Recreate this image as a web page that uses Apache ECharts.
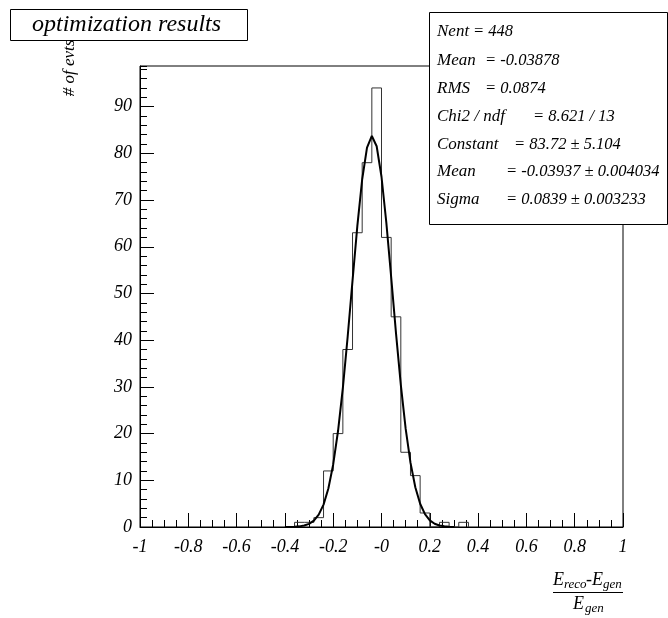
<!DOCTYPE html>
<html>
<head>
<meta charset="utf-8">
<script src="https://cdn.jsdelivr.net/npm/echarts@6/dist/echarts.min.js"></script>
<style>
	html, body { margin: 0; padding: 0; background: #fff; }
	#mainChart { width: 668px; height: 618px; }
</style>
</head>
<body>
<div id="mainChart"></div>
<script>
	// histogram: 0.04 wide bins, first bin starts at -0.36
	var binStart = -0.36;
	var binWidth = 0.04;
	var counts = [1, 1, 2, 12, 20, 38, 63, 78, 94, 62, 45, 16, 11, 3, 0, 1, 0, 1];

	// gaussian fit curve, sampled as drawn
	var fitX = [-0.40, -0.38, -0.36, -0.34, -0.32, -0.30, -0.28, -0.26, -0.24, -0.22, -0.20, -0.18,
		-0.16, -0.14, -0.12, -0.10, -0.08, -0.06, -0.04, -0.02, 0.00, 0.02, 0.04, 0.06,
		0.08, 0.10, 0.12, 0.14, 0.16, 0.18, 0.20, 0.22, 0.24, 0.26, 0.28, 0.30];
	var fitY = [0.008, 0.022, 0.056, 0.136, 0.311, 0.672, 1.370, 2.637, 4.798, 8.248, 13.39, 20.55,
		29.78, 40.78, 52.76, 64.48, 74.45, 81.22, 83.72, 81.52, 74.99, 65.18, 53.52, 41.52,
		30.42, 21.06, 13.78, 8.517, 4.973, 2.743, 1.429, 0.704, 0.327, 0.144, 0.060, 0.023];

	var xTickLabels = ['-1', '-0.8', '-0.6', '-0.4', '-0.2', '-0', '0.2', '0.4', '0.6', '0.8', '1'];
	var yMax = 98.7;

	var statLabels = ['Nent', 'Mean', 'RMS', 'Chi2 / ndf', 'Constant', 'Mean', 'Sigma'];
	var statValues = ['= 448', '= -0.03878', '= 0.0874', '= 8.621 / 13', '= 83.72 \u00b1 5.104',
		'= -0.03937 \u00b1 0.004034', '= 0.0839 \u00b1 0.003233'];

	var serif = '"Liberation Serif", "DejaVu Serif", serif';

	function histData() {
		var pts = [[binStart, 0]];
		for (var i = 0; i < counts.length; i++) {
			pts.push([binStart + i * binWidth, counts[i]]);
		}
		pts.push([binStart + counts.length * binWidth, 0]);
		return pts;
	}

	function fitData() {
		var pts = [];
		for (var i = 0; i < fitX.length; i++) {
			pts.push([fitX[i], fitY[i]]);
		}
		return pts;
	}

	function statsGraphics() {
		var eqX = [473, 485, 485, 533, 514, 506, 506];
		var rowY = [32, 61, 89, 117, 145, 172, 200];
		var els = [{
			type : 'rect',
			shape : { x : 429.5, y : 12.5, width : 238, height : 212 },
			style : { fill : '#fff', stroke : '#000', lineWidth : 1 },
			z : 100
		}];
		for (var i = 0; i < statLabels.length; i++) {
			els.push({
				type : 'text', x : 437, y : rowY[i], z : 101,
				style : { text : statLabels[i], font : 'italic 17px ' + serif, fill : '#000', verticalAlign : 'middle' }
			});
			els.push({
				type : 'text', x : eqX[i], y : rowY[i], z : 101,
				style : { text : statValues[i], font : 'italic 16.5px ' + serif, fill : '#000', verticalAlign : 'middle' }
			});
		}
		return els;
	}

	var myChart = echarts.init(document.getElementById('mainChart'));
	var tickColor = '#000';
	option = {
		animation : false,
		backgroundColor : '#fff',
		grid : {
			left : 140, right : 45, top : 66, bottom : 91,
			show : true, borderColor : '#000', borderWidth : 1, backgroundColor : 'transparent'
		},
		xAxis : [ {
			type : 'value', min : -1, max : 1, interval : 0.2, position : 'bottom',
			axisLine : { onZero : false, lineStyle : { color : tickColor, width : 1 } },
			axisTick : { inside : true, length : 14, lineStyle : { color : tickColor } },
			splitLine : { show : false },
			axisLabel : {
				margin : 11, color : '#000', fontFamily : serif, fontStyle : 'italic', fontSize : 18,
				formatter : function (v) { return xTickLabels[Math.round((v + 1) / 0.2)]; }
			}
		}, {
			type : 'value', min : -1, max : 1, interval : 0.05, position : 'bottom',
			axisLine : { show : false, onZero : false },
			axisTick : { inside : true, length : 7, lineStyle : { color : tickColor } },
			splitLine : { show : false },
			axisLabel : { show : false }
		} ],
		yAxis : [ {
			type : 'value', min : 0, max : yMax, interval : 10, position : 'left',
			axisLine : { show : true, onZero : false, lineStyle : { color : tickColor, width : 1 } },
			axisTick : { show : true, inside : true, length : 14, lineStyle : { color : tickColor } },
			splitLine : { show : false },
			axisLabel : {
				margin : 8, color : '#000', fontFamily : serif, fontStyle : 'italic', fontSize : 18,
				showMaxLabel : false,
				formatter : function (v) { return (Math.abs(v % 10) < 1e-6) ? String(v) : ''; }
			}
		}, {
			type : 'value', min : 0, max : yMax, interval : 2, position : 'left',
			axisLine : { show : false, onZero : false },
			axisTick : { show : true, inside : true, length : 7, lineStyle : { color : tickColor } },
			splitLine : { show : false },
			axisLabel : { show : false }
		} ],
		series : [ {
			name : 'hist',
			type : 'line',
			step : 'end',
			xAxisIndex : 0, yAxisIndex : 0,
			symbol : 'none',
			lineStyle : { color : '#333', width : 1 },
			data : histData()
		}, {
			name : 'gaus',
			type : 'line',
			xAxisIndex : 0, yAxisIndex : 0,
			symbol : 'none',
			lineStyle : { color : '#000', width : 2 },
			data : fitData()
		} ],
		graphic : [ {
			type : 'rect',
			shape : { x : 10.5, y : 9.5, width : 237, height : 31 },
			style : { fill : '#fff', stroke : '#000', lineWidth : 1 }
		}, {
			type : 'text', x : 32, y : 25,
			style : { text : 'optimization results', font : 'italic 24px ' + serif, fill : '#000', verticalAlign : 'middle' }
		}, {
			// y axis title, reads bottom to top
			type : 'text', x : 70, y : 68, rotation : Math.PI / 2,
			style : { text : '# of evts', font : 'italic 17px ' + serif, fill : '#000', align : 'center', verticalAlign : 'middle' }
		}, {
			// x axis title: (E_reco - E_gen) / E_gen
			type : 'group',
			children : [
				{ type : 'text', x : 553, y : 580, style : { text : 'E', font : 'italic 18px ' + serif, fill : '#000', verticalAlign : 'middle' } },
				{ type : 'text', x : 564, y : 585, style : { text : 'reco', font : 'italic 13px ' + serif, fill : '#000', verticalAlign : 'middle' } },
				{ type : 'text', x : 586, y : 580, style : { text : '-E', font : 'italic 18px ' + serif, fill : '#000', verticalAlign : 'middle' } },
				{ type : 'text', x : 603, y : 585, style : { text : 'gen', font : 'italic 13px ' + serif, fill : '#000', verticalAlign : 'middle' } },
				{ type : 'line', shape : { x1 : 553, y1 : 592.5, x2 : 623, y2 : 592.5 }, style : { stroke : '#000', lineWidth : 1 } },
				{ type : 'text', x : 573, y : 604, style : { text : 'E', font : 'italic 18px ' + serif, fill : '#000', verticalAlign : 'middle' } },
				{ type : 'text', x : 585, y : 609, style : { text : 'gen', font : 'italic 13px ' + serif, fill : '#000', verticalAlign : 'middle' } }
			]
		} ].concat(statsGraphics())
	};
	myChart.setOption(option, true);
</script>
</body>
</html>
